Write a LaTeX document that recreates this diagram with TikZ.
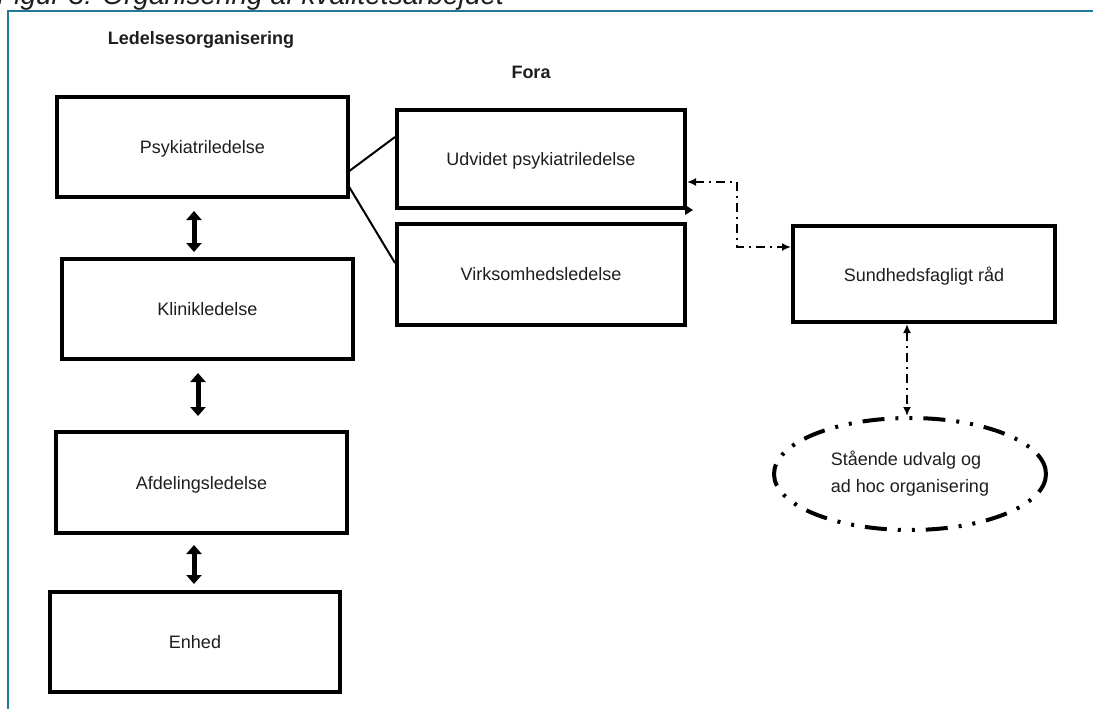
\documentclass[tikz,border=0pt]{standalone}
\usepackage{fontspec}
\setmainfont{Liberation Sans}
\usetikzlibrary{arrows.meta,shapes.geometric}
\definecolor{frameteal}{HTML}{1F7A98}
\definecolor{txt}{HTML}{1E1E1E}
\tikzset{
  box/.style={draw, line width=4pt, rectangle, inner sep=0pt, text=txt, text depth=0pt,
    font=\fontsize{18}{22}\selectfont},
  head/.style={font=\fontsize{18}{22}\selectfont\bfseries, text=txt, text depth=0pt},
  dbl/.style={line width=5pt, {Triangle[width=15pt,length=9pt]}-{Triangle[width=15pt,length=9pt]}},
  thin/.style={line width=2pt},
  dd/.style={line width=2pt, dash pattern=on 9pt off 5pt on 2pt off 5pt,
    {Latex[length=9pt,width=8pt]}-{Latex[length=9pt,width=8pt]}},
}
\begin{document}
\begin{tikzpicture}[x=1pt,y=-1pt]
\useasboundingbox (0,0) rectangle (1093,709);
\fill[white] (0,0) rectangle (1093,709);
% caption cut at top
\begin{scope}
\clip (0,0) rectangle (1093,709);
\node[anchor=base west, inner sep=0pt, font=\fontsize{28}{32}\selectfont\itshape, text=txt] (cap) at (-3,5) {Figur 3: Organisering af kvalitetsarbejdet};
\end{scope}
% frame
\draw[frameteal, line width=2pt] (8,720) -- (8,11) -- (1100,11);
% headings
\node[head] (h1) at (201,38) {Ledelsesorganisering};
\node[head] (h2) at (531,72) {Fora};
% left column
\node[box, minimum width=291pt, minimum height=100pt] (psy) at (202.5,147) {Psykiatriledelse};
\node[box, minimum width=291pt, minimum height=100pt] (kli) at (207.5,309) {Klinikledelse};
\node[box, minimum width=291pt, minimum height=101pt] (afd) at (201.5,482.5) {Afdelingsledelse};
\node[box, minimum width=290pt, minimum height=100pt] (enh) at (195,642) {Enhed};
% fora
\node[box, minimum width=288pt, minimum height=98pt] (udv) at (541,159) {Udvidet psykiatriledelse};
\node[box, minimum width=288pt, minimum height=101pt] (vir) at (541,274) {Virksomhedsledelse};
\node[box, minimum width=262pt, minimum height=96pt] (sun) at (924,274) {Sundhedsfagligt råd};
\node[ellipse, draw, line width=4pt, dash pattern=on 22pt off 11pt on 3pt off 11pt on 3pt off 11pt,
  minimum width=272pt, minimum height=112pt, inner sep=0pt, align=left, text=txt,
  font=\fontsize{18}{27}\selectfont] (ell) at (910,474) {Stående udvalg og\\ad hoc organisering};
% double arrows
\coordinate (a1) at (194,0);
\coordinate (a2) at (198,0);
\coordinate (a3) at (194,0);
\draw[dbl, shorten <=12pt, shorten >=5pt] (psy.south -| a1) -- (kli.north -| a1);
\draw[dbl, shorten <=12pt, shorten >=14pt] (kli.south -| a2) -- (afd.north -| a2);
\draw[dbl, shorten <=10pt, shorten >=6pt] (afd.south -| a3) -- (enh.north -| a3);
% thin lines from Psykiatriledelse
\coordinate (p1) at (348,172);
\coordinate (p2) at (348,185);
\coordinate (u1) at (0,137);
\coordinate (v1) at (0,263);
\draw[thin] (p1) -- (udv.west |- u1);
\draw[thin] (p2) -- (vir.west |- v1);
% small arrowhead at Udvidet corner
\fill (udv.south east) ++(-2,-5) -- ++(8,5) -- ++(-8,5) -- cycle;
% dash-dot connectors
\coordinate (k1) at (737,182);
\coordinate (k2) at (737,247);
\draw[dd] (k1 -| udv.east) -- (k1) -- (k2) -- (k2 -| sun.west);
\coordinate (c1) at (907,0);
\draw[dd] (sun.south -| c1) -- (ell.north -| c1);
\end{tikzpicture}
\end{document}
